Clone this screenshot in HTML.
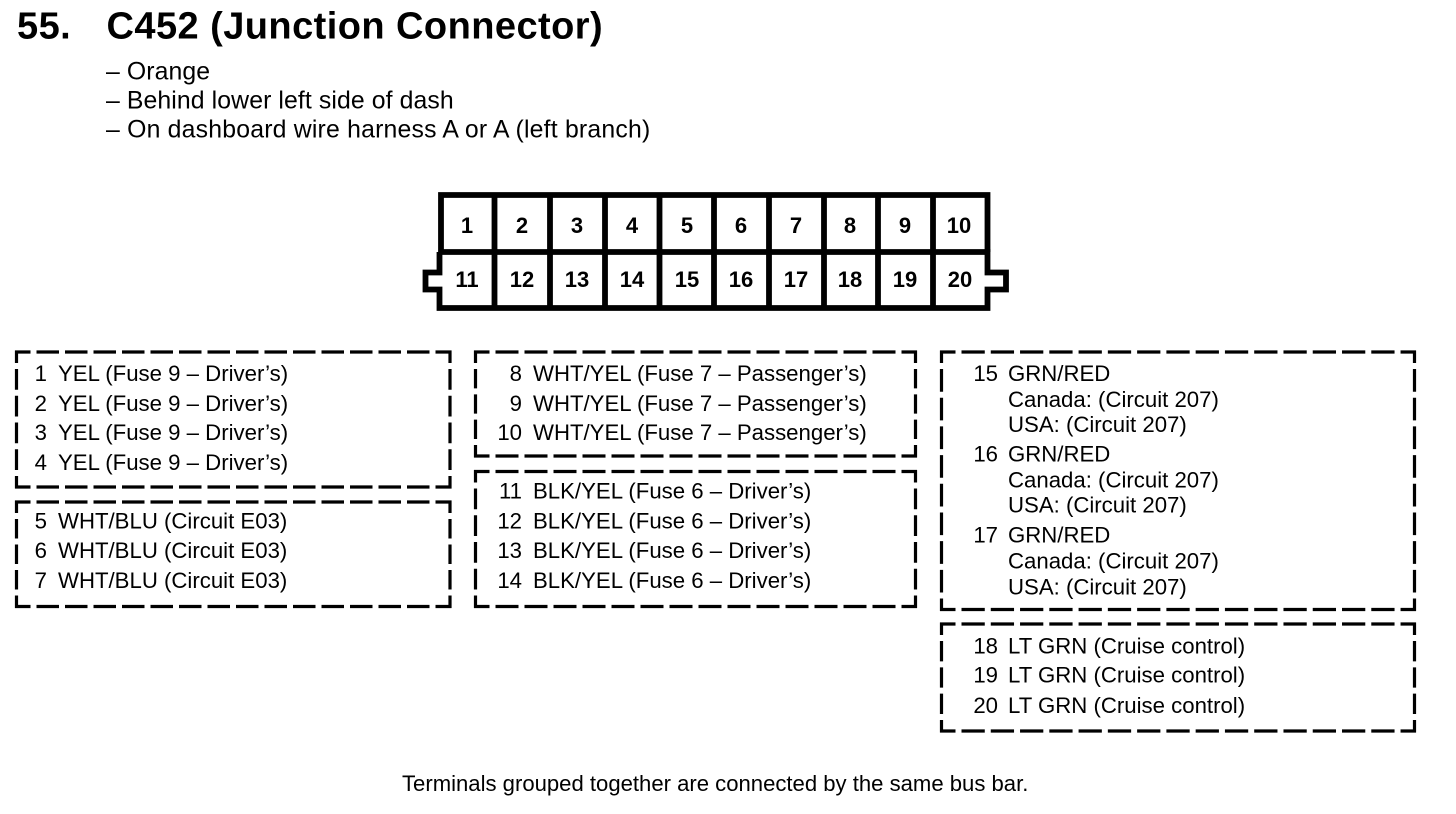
<!DOCTYPE html>
<html><head><meta charset="utf-8"><style>
html,body{margin:0;padding:0;background:#fff;width:1456px;height:814px;overflow:hidden}
svg{display:block}
text{font-family:"Liberation Sans",Arial,sans-serif;fill:#000}
.t{font-size:22.2px}
.n{font-size:22.2px;text-anchor:end}
.f{font-size:22.1px}
.m{font-size:24.8px;letter-spacing:.1px}
.p{font-size:22px;font-weight:bold;text-anchor:middle}
.h{font-size:38px;font-weight:bold;letter-spacing:.44px}
.d{stroke:#000;stroke-width:3.2;fill:none}
.c{stroke:#000;stroke-width:5.8;fill:none}
</style></head><body>
<svg width="1456" height="814" viewBox="0 0 1456 814" xmlns="http://www.w3.org/2000/svg">
<text class="h" x="17" y="38.5">55.</text>
<text class="h" x="106.5" y="38.5">C452 (Junction Connector)</text>
<text class="m" x="106" y="79.5">– Orange</text>
<text class="m" x="106" y="108.5">– Behind lower left side of dash</text>
<text class="m" x="106" y="137.5" style="letter-spacing:.2px">– On dashboard wire harness A or A (left branch)</text>

<path class="c" d="M441 252V195H987.5V252"/>
<path class="c" d="M439.5 252H987.5V272.5H1006V289.5H987.5V308H439.5V289.5H425.5V272.5H439.5V252"/>
<path class="c" d="M494.5 195V308M550 195V308M605 195V308M659.5 195V308M714 195V308M769 195V308M824 195V308M878 195V308M933 195V308"/>
<text class="p" x="467" y="233">1</text><text class="p" x="522" y="233">2</text><text class="p" x="577" y="233">3</text><text class="p" x="632" y="233">4</text><text class="p" x="687" y="233">5</text><text class="p" x="741" y="233">6</text><text class="p" x="796" y="233">7</text><text class="p" x="850" y="233">8</text><text class="p" x="905" y="233">9</text><text class="p" x="959" y="233">10</text>
<text class="p" x="467" y="287">11</text><text class="p" x="522" y="287">12</text><text class="p" x="577" y="287">13</text><text class="p" x="632" y="287">14</text><text class="p" x="687" y="287">15</text><text class="p" x="741" y="287">16</text><text class="p" x="796" y="287">17</text><text class="p" x="850" y="287">18</text><text class="p" x="905" y="287">19</text><text class="p" x="960" y="287">20</text>

<g class="d" stroke-dasharray="22.5 6" stroke-dashoffset="7"><path d="M15 352H451.5M15 487H451.5M15 502H451.5M15 606.5H451.5"/></g>
<g class="d" stroke-dasharray="23 6" stroke-dashoffset="7.5"><path d="M474 352H917M474 456H917M474 471.5H917M474 606.5H917"/></g>
<g class="d" stroke-dasharray="23.27 6" stroke-dashoffset="7.77"><path d="M940 352H1416M940 609.5H1416M940 624H1416M940 731H1416"/></g>
<g class="d" stroke-dasharray="20.75 6" stroke-dashoffset="8.25"><path d="M16.5 350.5V488.5M450 350.5V488.5M475.5 470V608M915.5 470V608"/></g>
<g class="d" stroke-dasharray="19.5 6" stroke-dashoffset="7"><path d="M16.5 500.5V608M450 500.5V608"/></g>
<g class="d" stroke-dasharray="19.33 6" stroke-dashoffset="6.83"><path d="M475.5 350.5V457.5M915.5 350.5V457.5"/></g>
<g class="d" stroke-dasharray="22.69 6" stroke-dashoffset="10.19"><path d="M941.5 350.5V611M1414.5 350.5V611"/></g>
<g class="d" stroke-dasharray="20.33 6" stroke-dashoffset="7.83"><path d="M941.5 622.5V732.5M1414.5 622.5V732.5"/></g>

<text class="n" x="47" y="381">1</text><text class="t" x="58" y="381">YEL (Fuse 9 – Driver’s)</text>
<text class="n" x="47" y="411">2</text><text class="t" x="58" y="411">YEL (Fuse 9 – Driver’s)</text>
<text class="n" x="47" y="440">3</text><text class="t" x="58" y="440">YEL (Fuse 9 – Driver’s)</text>
<text class="n" x="47" y="470">4</text><text class="t" x="58" y="470">YEL (Fuse 9 – Driver’s)</text>
<text class="n" x="47" y="528.5">5</text><text class="t" x="58" y="528.5">WHT/BLU (Circuit E03)</text>
<text class="n" x="47" y="558">6</text><text class="t" x="58" y="558">WHT/BLU (Circuit E03)</text>
<text class="n" x="47" y="588">7</text><text class="t" x="58" y="588">WHT/BLU (Circuit E03)</text>

<text class="n" x="522" y="381">8</text><text class="t" x="533" y="381">WHT/YEL (Fuse 7 – Passenger’s)</text>
<text class="n" x="522" y="411">9</text><text class="t" x="533" y="411">WHT/YEL (Fuse 7 – Passenger’s)</text>
<text class="n" x="522" y="440">10</text><text class="t" x="533" y="440">WHT/YEL (Fuse 7 – Passenger’s)</text>
<text class="n" x="522" y="498.5">11</text><text class="t" x="533" y="498.5">BLK/YEL (Fuse 6 – Driver’s)</text>
<text class="n" x="522" y="528.5">12</text><text class="t" x="533" y="528.5">BLK/YEL (Fuse 6 – Driver’s)</text>
<text class="n" x="522" y="558">13</text><text class="t" x="533" y="558">BLK/YEL (Fuse 6 – Driver’s)</text>
<text class="n" x="522" y="588">14</text><text class="t" x="533" y="588">BLK/YEL (Fuse 6 – Driver’s)</text>

<text class="n" x="998" y="381">15</text><text class="t" x="1008" y="381">GRN/RED</text>
<text class="t" x="1008" y="407">Canada: (Circuit 207)</text>
<text class="t" x="1008" y="432">USA: (Circuit 207)</text>
<text class="n" x="998" y="461.5">16</text><text class="t" x="1008" y="461.5">GRN/RED</text>
<text class="t" x="1008" y="487.5">Canada: (Circuit 207)</text>
<text class="t" x="1008" y="512.5">USA: (Circuit 207)</text>
<text class="n" x="998" y="542.5">17</text><text class="t" x="1008" y="542.5">GRN/RED</text>
<text class="t" x="1008" y="568.5">Canada: (Circuit 207)</text>
<text class="t" x="1008" y="594.5">USA: (Circuit 207)</text>
<text class="n" x="998" y="653.5">18</text><text class="t" x="1008" y="653.5">LT GRN (Cruise control)</text>
<text class="n" x="998" y="682.5">19</text><text class="t" x="1008" y="682.5">LT GRN (Cruise control)</text>
<text class="n" x="998" y="713">20</text><text class="t" x="1008" y="713">LT GRN (Cruise control)</text>

<text class="f" x="402" y="791">Terminals grouped together are connected by the same bus bar.</text>
</svg>
</body></html>
